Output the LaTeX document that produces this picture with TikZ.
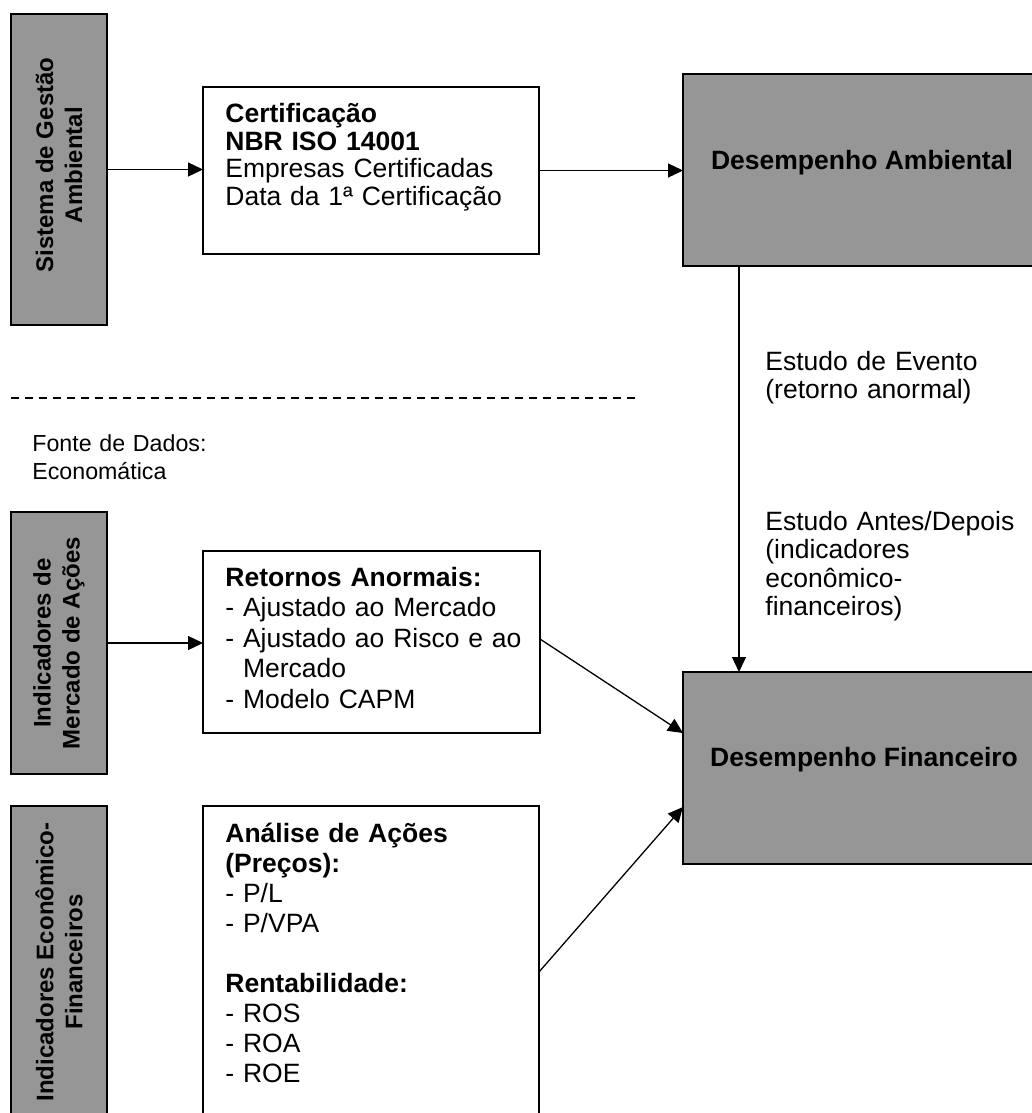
\documentclass[tikz,border=0pt]{standalone}
\usepackage{fontspec}
\setmainfont{Liberation Sans}
\usetikzlibrary{arrows.meta,calc}
\definecolor{boxgray}{RGB}{150,150,150}
\begin{document}
\begin{tikzpicture}[x=0.5pt,y=-0.5pt,
  box/.style={draw=black, line width=0.75pt, inner sep=0pt, outer sep=0pt, rectangle},
  gbox/.style={box, fill=boxgray},
  wbox/.style={box, fill=white},
  arr/.style={line width=0.65pt, -{Triangle[length=7.5pt,width=7pt]}},
  sep/.style={line width=1.2pt, dash pattern=on 4pt off 3pt},
  bodytxt/.style={inner sep=0pt, anchor=base west, align=left, text width=165pt, font=\fontsize{13.25}{15}\selectfont},
  sidetxt/.style={inner sep=0pt, anchor=base west, align=left, text width=130pt, font=\fontsize{13.25}{14.25}\selectfont},
  srctxt/.style={inner sep=0pt, anchor=base west, align=left, text width=130pt, font=\fontsize{11.6}{14}\selectfont},
  vtxt/.style={inner sep=0pt, rotate=90, align=center, font=\bfseries\fontsize{12}{14.5}\selectfont},
  titletxt/.style={inner sep=0pt, font=\bfseries\fontsize{13.25}{15.25}\selectfont},
]
\useasboundingbox (0,0) rectangle (1032,1113);
\clip (0,0) rectangle (1032,1113);

% boxes
\node[gbox, minimum width=48pt, minimum height=155.5pt] (A) at (59,169.5) {};
\node[wbox, minimum width=168pt, minimum height=83.5pt] (B) at (371,170.5) {};
\node[gbox, minimum width=181pt, minimum height=96pt] (C) at (864,170) {};
\node[gbox, minimum width=48pt, minimum height=131pt] (D) at (59,643) {};
\node[wbox, minimum width=168.5pt, minimum height=91pt] (E) at (371.5,642) {};
\node[gbox, minimum width=181pt, minimum height=96pt] (F) at (864,768) {};
\node[gbox, minimum width=48pt, minimum height=157pt] (G) at (59,963) {};
\node[wbox, minimum width=168pt, minimum height=157pt] (H) at (371,963) {};

% texts
\node[vtxt] (At) at (59,165) {Sistema de Gestão\\Ambiental};
\node[vtxt] (Dt) at (59,643) {Indicadores de\\Mercado de Ações};
\node[vtxt] (Gt) at (59,962) {Indicadores Econômico-\\Financeiros};

\node[bodytxt, font=\fontsize{13.25}{13.75}\selectfont] (Bt) at (225,123)
  {\textbf{Certificação}\\\textbf{NBR ISO 14001}\\Empresas Certificadas\\Data da 1ª Certificação};
\node[titletxt] (Ct) at (862,163) {Desempenho Ambiental};
\node[titletxt] (Ft) at (864,760) {Desempenho Financeiro};

\node[bodytxt, font=\fontsize{13.25}{15.25}\selectfont] (Et) at (225,586)
  {\textbf{Retornos Anormais:}\\- Ajustado ao Mercado\\- Ajustado ao Risco e ao\\\phantom{- }Mercado\\- Modelo CAPM};
\node[bodytxt] (Ht) at (225,842)
  {\textbf{Análise de Ações}\\\textbf{(Preços):}\\- P/L\\- P/VPA\\[15pt]\textbf{Rentabilidade:}\\- ROS\\- ROA\\- ROE};

\node[sidetxt] (L1) at (765,370) {Estudo de Evento\\(retorno anormal)};
\node[sidetxt] (L2) at (765,530) {Estudo Antes/Depois\\(indicadores\\econômico-\\financeiros)};
\node[srctxt] (Src) at (32,451) {Fonte de Dados:\\Economática};

% separator
\coordinate (dl) at (11,398);
\coordinate (dr) at (636,398);
\draw[sep] (dl) -- (dr);

% connectors
\draw[arr] (A.east) -- (A.east -| B.west);
\draw[arr] (B.east) -- (B.east -| C.west);
\draw[arr] ([xshift=-62.5pt]C.south) -- ([xshift=-62.5pt]F.north);
\draw[arr] (D.east) -- (D.east -| E.west);
\draw[arr] ([yshift=1.5pt]E.east) -- ([yshift=17.5pt]F.west);
\draw[arr] ([yshift=-4.5pt]H.east) -- ([yshift=-19.5pt]F.west);
\end{tikzpicture}
\end{document}
